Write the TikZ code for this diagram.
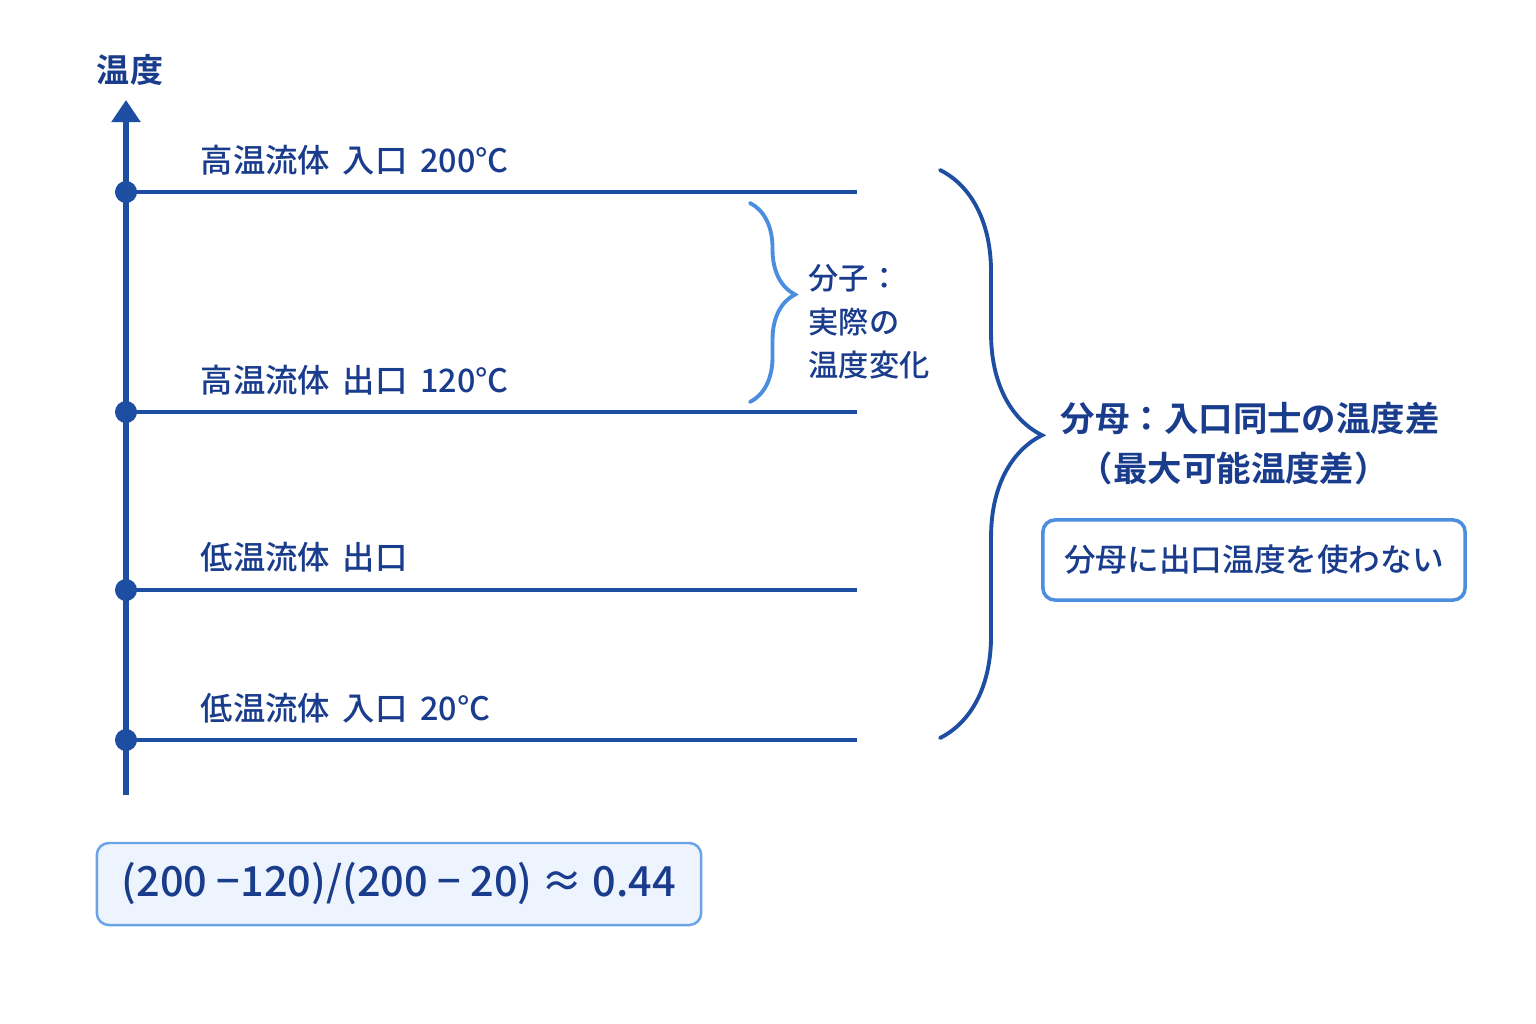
\documentclass[tikz,border=0pt]{standalone}
\usepackage{fontspec}
\setmainfont{Noto Sans CJK JP}[BoldFont={Noto Sans CJK JP Medium}]
\newfontfamily\jpheavy{Noto Sans CJK JP Bold}
\usetikzlibrary{arrows.meta,decorations.pathreplacing}
\definecolor{axisblue}{HTML}{1E4EA2}
\definecolor{textblue}{HTML}{1A3C8C}
\definecolor{braceblue}{HTML}{4A8EE0}
\definecolor{boxfill}{HTML}{EEF4FD}
\definecolor{boxline}{HTML}{6AA4E8}

\begin{document}
\begin{tikzpicture}[x=0.01cm,y=-0.01cm,
     dot/.style={circle,fill=axisblue,inner sep=0pt,minimum size=0.22cm},
     lvline/.style={axisblue,line width=1pt},
     lvl/.style={anchor=west,inner sep=0pt,text=textblue,font=\bfseries\fontsize{9.2}{11}\selectfont},
     head/.style={anchor=west,inner sep=0pt,text=textblue,font=\jpheavy\fontsize{9.8}{12}\selectfont},
     note/.style={text=textblue,inner sep=0pt,align=left,font=\bfseries\fontsize{8.6}{12.3}\selectfont},
     curly/.style={decorate,line width=1.1pt,line cap=round}
     ]
   \useasboundingbox[fill=white] (0,0) rectangle (1536,1024);

   % temperature axis
   \coordinate (base) at (126,795);
   \coordinate (top) at (126,100);
   \draw[axisblue,line width=1.5pt,-{Triangle[length=0.22cm,width=0.28cm]}] (base) -- (top);
   \node[text=textblue,font=\jpheavy\fontsize{9.4}{11}\selectfont] (tlbl) at (130,70) {温度};

   % the four temperature levels
   \foreach \y/\name/\ly/\desc
      in {192/hin/160/{高温流体\ \,入口\ \,200°C},
          412/hout/380/{高温流体\ \,出口\ \,120°C},
          590/cout/557/{低温流体\ \,出口},
          740/cin/708/{低温流体\ \,入口\ \,20°C}}
   {
     \node[dot] (\name) at (126,\y) {};
     \coordinate (\name-e) at (857,\y);
     \draw[lvline] (\name.center) -- (\name-e);
     \node[lvl] (\name-lbl) at (200,\ly) {\desc};
   }

   % numerator brace
   \coordinate (numt) at (750,203);
   \coordinate (numb) at (750,402);
   \draw[curly,braceblue,decoration={brace,amplitude=0.45cm,aspect=0.46}] (numt) -- (numb);
   \node[note,anchor=west] (num) at (808,322) {分子：\\実際の\\温度変化};

   % denominator brace
   \coordinate (dent) at (940,170);
   \coordinate (denb) at (940,738);
   \draw[curly,axisblue,decoration={brace,amplitude=1.02cm,aspect=0.467}] (dent) -- (denb);
   \node[head] (den) at (1060,418) {分母：入口同士の温度差};
   \node[head] (den2) at (1078,468) {（最大可能温度差）};

   % warning box
   \node[draw=braceblue,line width=1pt,rounded corners=0.12cm,fill=white,
         minimum width=4.22cm,minimum height=0.8cm,text=textblue,
         font=\bfseries\fontsize{9}{11}\selectfont] (warn) at (1254,560) {分母に出口温度を使わない};

   % result
   \node[draw=boxline,line width=0.7pt,rounded corners=0.12cm,fill=boxfill,
         minimum width=6.04cm,minimum height=0.82cm,text=textblue,
         font=\bfseries\fontsize{11.8}{14}\selectfont] (frm) at (399,884) {(200 −120)/(200 − 20) ≈ 0.44};
 \end{tikzpicture}
\end{document}
